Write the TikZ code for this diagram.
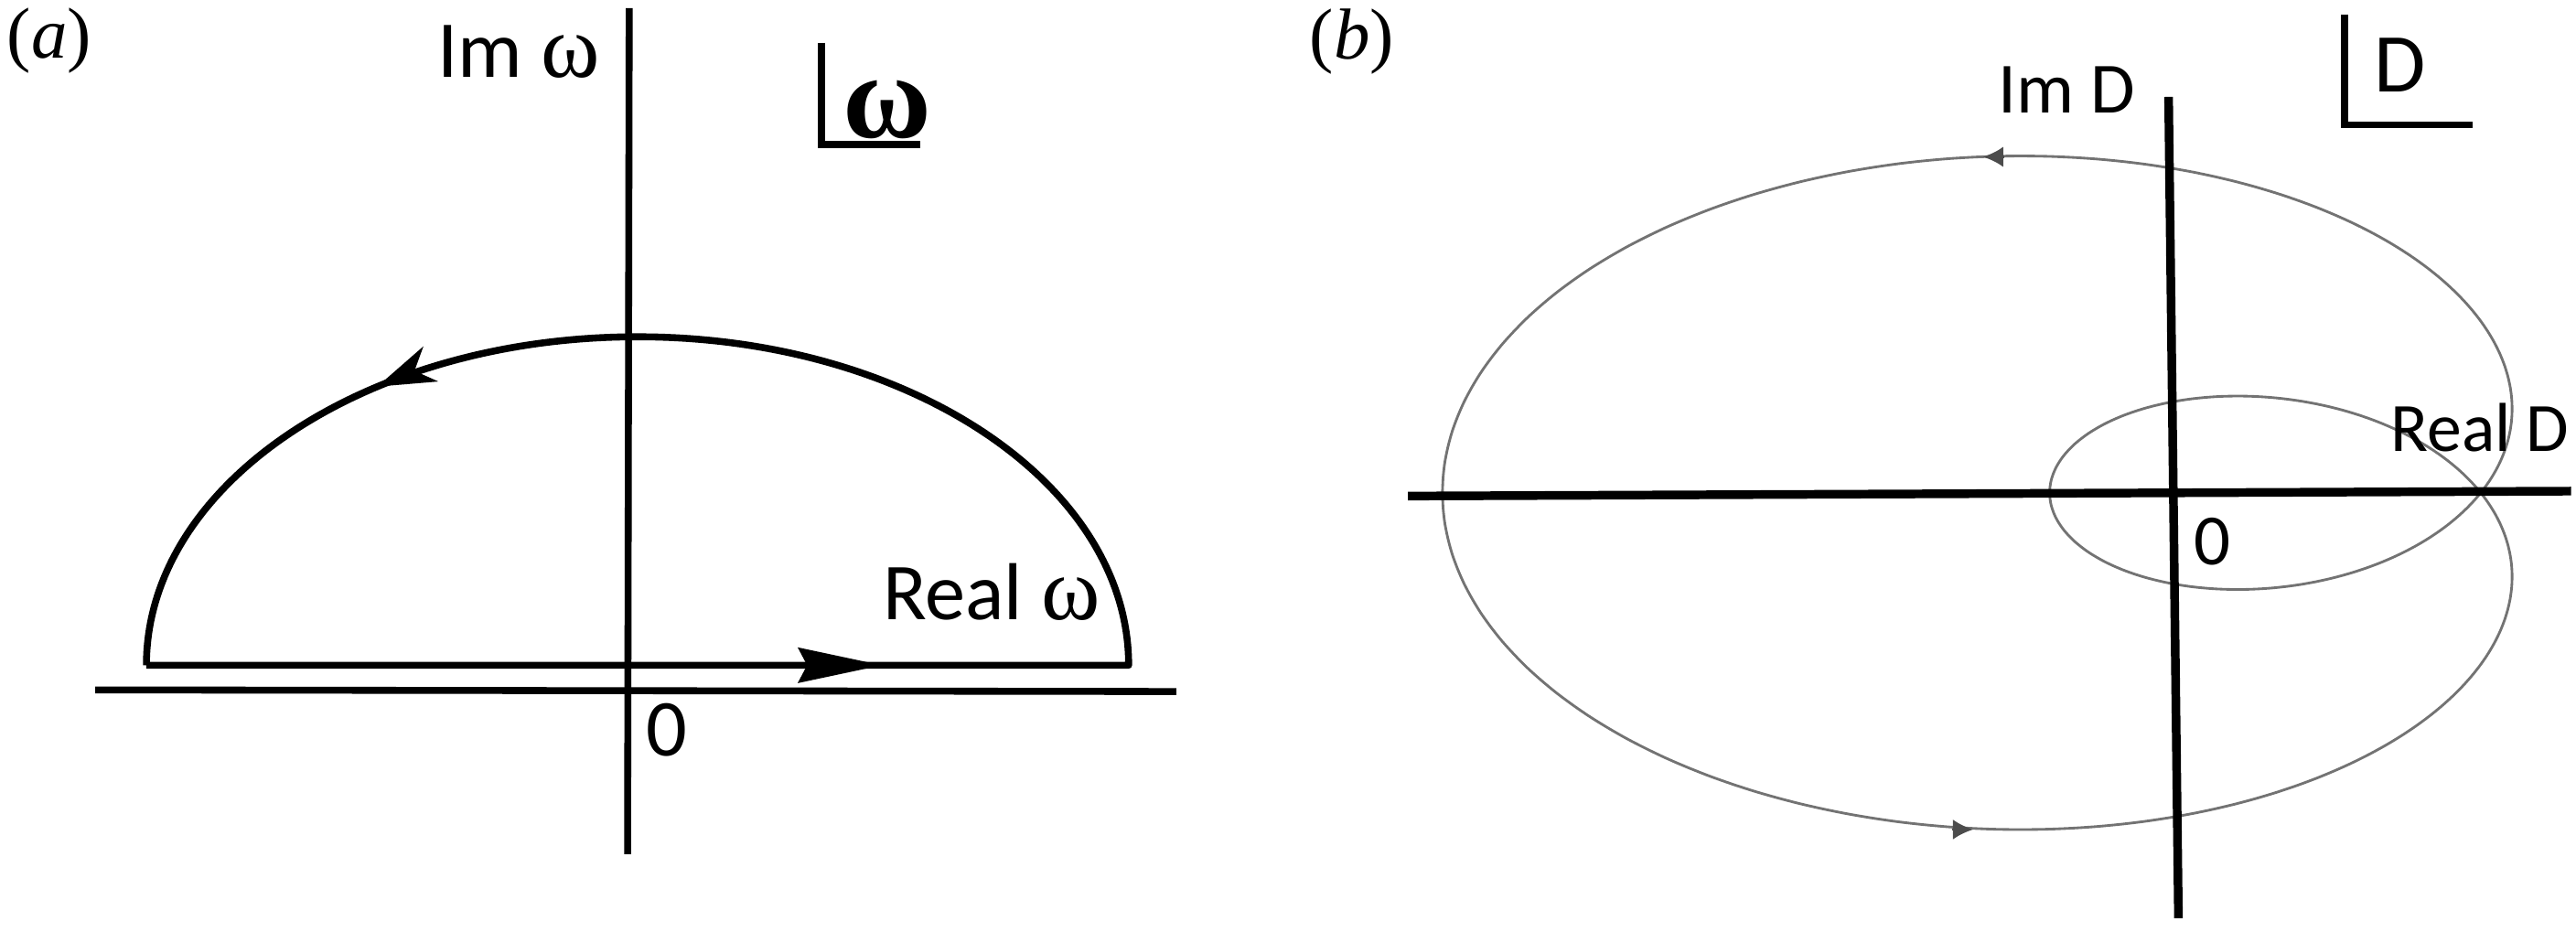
\documentclass[tikz,border=0pt]{standalone}
\usepackage{fontspec}
\setmainfont{Carlito}
\newfontfamily\tnr{Liberation Serif}
\usetikzlibrary{arrows.meta}
\begin{document}
\begin{tikzpicture}[x=0.02cm,y=-0.02cm,
  lbl/.style={inner sep=0pt, anchor=base west},
  axisA/.style={line width=2.4pt, black},
  axisB/.style={line width=3pt, black},
  boxline/.style={line width=2.4pt, black, line cap=butt},
  curveB/.style={line width=0.9pt, black!55},
  bigtip/.style={-{Stealth[length=29pt,width=12pt,inset=3pt]}},
  arctip/.style={-{Stealth[length=20pt,width=13pt,inset=6pt]}},
  smalltip/.style={-{Latex[length=7pt,width=7pt]}, line width=0.9pt, black!70}]
\useasboundingbox (0,0) rectangle (1568,567);

% ---------- panel (a) ----------
\node[lbl, font=\tnr\fontsize{25}{29}\selectfont] (la) at (4,35.5) {(\textit{a})};
\coordinate (aTop) at (383,5);
\coordinate (aBot) at (382,520);
\coordinate (aL) at (58,420);
\coordinate (aR) at (716,421);
\draw[axisA] (aTop) -- (aBot);
\draw[axisA] (aL) -- (aR);
\coordinate (cL) at (89,405);
\coordinate (cR) at (687,405);
\draw[axisA, line join=round] (cL) -- (cR) arc[start angle=0, end angle=180, x radius=5.98cm, y radius=4cm];
\coordinate (aa1) at (238.8,231.5);
\coordinate (aa2) at (229.6,235.4);
\draw[axisA, arctip] (aa1) -- (aa2);
\coordinate (ab1) at (515,405);
\coordinate (ab2) at (537,405);
\draw[axisA, bigtip] (ab1) -- (ab2);
\node[lbl, font=\fontsize{28}{32}\selectfont] (imw) at (266,47) {Im {\tnr\fontsize{31}{35}\selectfont ω}};
\coordinate (wb1) at (500,26);
\coordinate (wb2) at (500,88);
\coordinate (wb3) at (560,88);
\draw[boxline] (wb1) -- (wb2) -- (wb3);
\node[lbl, font=\tnr\bfseries\fontsize{42}{46}\selectfont] (bw) at (513,84) {ω};
\node[lbl, font=\fontsize{28}{32}\selectfont] (rw) at (537,377) {Real {\tnr\fontsize{31}{35}\selectfont ω}};
\node[lbl, font=\fontsize{28}{32}\selectfont] (za) at (393,460) {0};

% ---------- panel (b) ----------
\node[lbl, font=\tnr\fontsize{25}{29}\selectfont] (lb) at (797,36) {(\textit{b})};
\coordinate (bL) at (857,302);
\coordinate (bR) at (1565,299);
\coordinate (bTop) at (1320,59);
\coordinate (bBot) at (1326,559);
\draw[curveB] plot[domain=0:360, samples=241, smooth, variable=\t]
  ({1510 - 184.8*(1+2.42*cos(\t))*cos(\t)}, {300 - 104.5*(1+2.42*cos(\t))*sin(\t)});
\draw[axisB] (bL) -- (bR);
\draw[axisB] (bTop) -- (bBot);
\coordinate (ta1) at (1220,95.5);
\coordinate (ta2) at (1207,95.5);
\draw[smalltip] (ta1) -- (ta2);
\coordinate (ba1) at (1188,505);
\coordinate (ba2) at (1201,505);
\draw[smalltip] (ba1) -- (ba2);
\coordinate (db1) at (1427,9);
\coordinate (db2) at (1427,76);
\coordinate (db3) at (1505,76);
\draw[boxline] (db1) -- (db2) -- (db3);
\node[lbl, font=\fontsize{29}{33}\selectfont] (bd) at (1445,56) {D};
\node[lbl, font=\fontsize{25}{29}\selectfont] (imd) at (1216,68.5) {Im D};
\node[lbl, font=\fontsize{24}{28}\selectfont] (rd) at (1455,275) {Real D};
\node[lbl, font=\fontsize{25}{29}\selectfont] (zb) at (1335,344) {0};
\end{tikzpicture}
\end{document}
